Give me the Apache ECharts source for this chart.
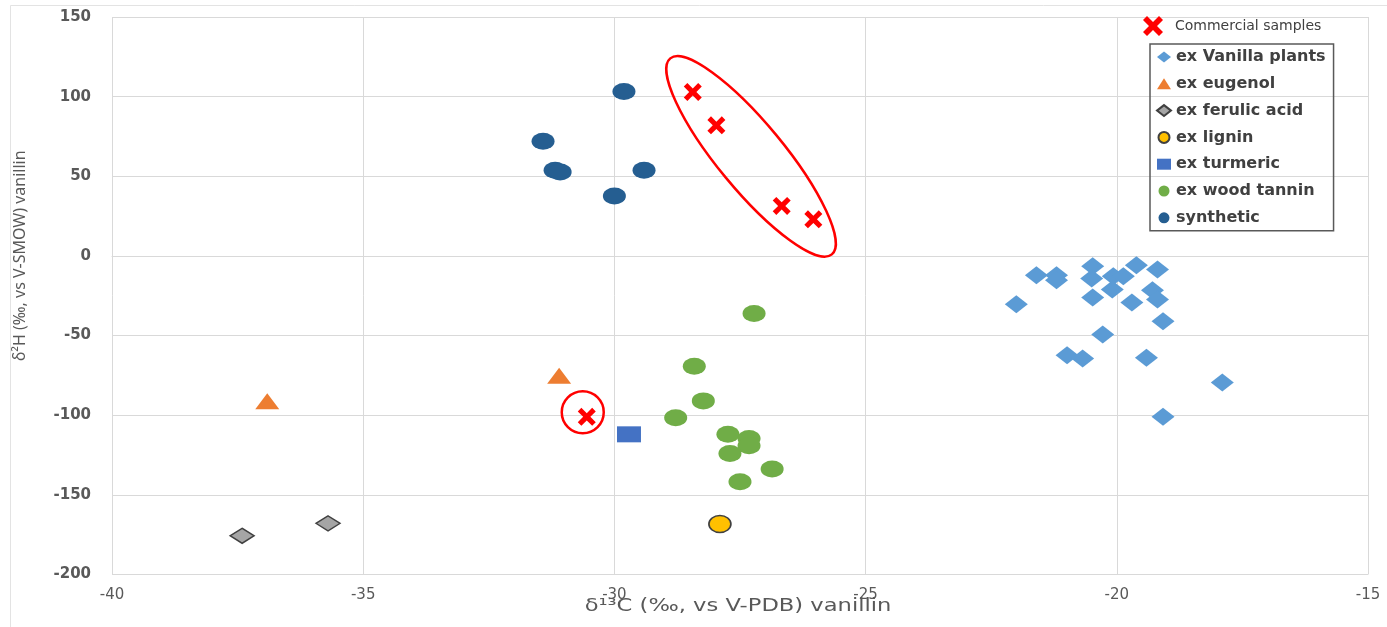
<!DOCTYPE html>
<html>
<head>
<meta charset="utf-8">
<script src="https://cdn.jsdelivr.net/npm/echarts@6/dist/echarts.min.js"></script>
<style>
  html, body { margin: 0; padding: 0; background: #fff; }
  #scatter { width: 1387px; height: 627px; }
</style>
</head>
<body>
<div id="scatter"></div>
<script>
// d13C (x), d2H (y) values
var vanillaPlants = [
    [-21.60, -12.1], [-21.20, -12.1], [-21.20, -15.3], [-20.48, -6.5], [-20.50, -14.2],
    [-20.07, -12.7], [-19.87, -12.7], [-20.09, -21.1], [-19.61, -5.8], [-19.19, -8.5],
    [-19.29, -21.5], [-19.19, -27.4], [-20.48, -26.1], [-19.70, -29.2], [-22.00, -30.3],
    [-19.08, -41.0], [-20.28, -49.3], [-20.99, -62.3], [-20.68, -64.4], [-19.41, -64.0],
    [-17.90, -79.4], [-19.08, -101.0]
];
var eugenol = [[-36.91, -91.2], [-31.10, -75.3]];
var ferulicAcid = [[-37.41, -175.7], [-35.70, -167.9]];
var lignin = [[-27.90, -168.3]];
var turmeric = [[-29.71, -112.0]];
var woodTannin = [
    [-27.22, -36.1], [-28.41, -69.2], [-28.23, -91.0], [-28.78, -101.6], [-27.74, -111.9],
    [-27.32, -114.6], [-27.32, -119.2], [-27.70, -124.0], [-26.86, -133.8], [-27.50, -141.8]
];
var synthetic = [
    [-29.81, 103.3], [-31.42, 72.0], [-31.18, 53.8], [-31.08, 52.7], [-29.41, 53.8], [-30.00, 37.6]
];
var commercial = [[-28.44, 102.9], [-27.97, 82.0], [-26.67, 31.4], [-26.04, 23.0], [-30.55, -101.0]];
// centres of the red rings drawn round the commercial samples
var ringCentres = [[-27.28, 62.5], [-30.63, -98.1]];

var xTicks = { min: -40, max: -15, step: 5 };
var yTicks = { min: -200, max: 150, step: 50 };

var crossPath = 'path://M2,0 L5,3 L8,0 L10,2 L7,5 L10,8 L8,10 L5,7 L2,10 L0,8 L3,5 L0,2 Z';
// ring sizes in pixels, one per centre
var ringShapes = [
    { rx: 127, ry: 33, angle: -50.5 },
    { rx: 21, ry: 21, angle: 0 }
];

var chart = document.getElementById('scatter');
var myChart = echarts.init(chart);

var wideFont = 'DejaVu Sans';

var option = {
    backgroundColor: '#fff',
    animation: false,
    textStyle: { fontFamily: wideFont },
    grid: { left: 112, right: 19, top: 17, bottom: 52.5 },
    graphic: [
        {
            type: 'rect',
            left: 8,
            top: 3,
            shape: { width: 1400, height: 640 },
            style: { fill: 'none', stroke: '#e3e3e3', lineWidth: 1 },
            silent: true
        },
        {
            type: 'text',
            x: 738,
            y: 607,
            scaleX: 1.33,
            style: {
                text: 'δ¹³C (‰, vs V-PDB) vanillin',
                font: '17px "DejaVu Sans"',
                fill: '#595959',
                align: 'center',
                verticalAlign: 'middle'
            },
            silent: true
        }
    ],
    legend: [
        {
            data: ['ex Vanilla plants', 'ex eugenol', 'ex ferulic acid', 'ex lignin',
                   'ex turmeric', 'ex wood tannin', 'synthetic'],
            orient: 'vertical',
            left: 1150,
            top: 44,
            padding: [5, 8, 5, 6],
            itemGap: 10.8,
            itemWidth: 14,
            itemHeight: 11,
            borderColor: '#595959',
            borderWidth: 1.5,
            textStyle: { fontSize: 16, color: '#404040', fontWeight: 'bold', fontFamily: wideFont }
        },
        {
            data: ['Commercial samples'],
            left: 1143,
            top: 16,
            padding: 0,
            itemWidth: 20,
            itemHeight: 20,
            itemGap: 0,
            textStyle: { fontSize: 14, color: '#404040', fontFamily: wideFont, padding: [0, 0, 0, 7] }
        }
    ],
    xAxis: {
        type: 'value',
        min: xTicks.min,
        max: xTicks.max,
        interval: xTicks.step,
        axisLine: { show: true, lineStyle: { color: '#d9d9d9' } },
        axisTick: { show: false },
        axisLabel: { color: '#595959', fontSize: 15, margin: 13 },
        splitLine: { show: true, lineStyle: { color: '#d9d9d9' } }
    },
    yAxis: {
        type: 'value',
        min: yTicks.min,
        max: yTicks.max,
        interval: yTicks.step,
        name: 'δ²H (‰, vs V-SMOW) vanillin',
        nameLocation: 'middle',
        nameGap: 84,
        nameTextStyle: { fontSize: 16, color: '#595959', fontFamily: 'Noto Sans', padding: [0, 0, 0, 80] },
        axisLine: { show: false },
        axisTick: { show: false },
        axisLabel: { color: '#595959', fontSize: 15, fontWeight: 'bold', margin: 21 },
        splitLine: { show: true, lineStyle: { color: '#d9d9d9' } }
    },
    series: [
        {
            name: 'ex Vanilla plants',
            type: 'scatter',
            symbol: 'diamond',
            symbolSize: [23, 18],
            itemStyle: { color: '#5b9bd5', opacity: 1 },
            data: vanillaPlants
        },
        {
            name: 'ex eugenol',
            type: 'scatter',
            symbol: 'triangle',
            symbolSize: [24, 16],
            itemStyle: { color: '#ed7d31', opacity: 1 },
            data: eugenol
        },
        {
            name: 'ex ferulic acid',
            type: 'scatter',
            symbol: 'diamond',
            symbolSize: [24, 15],
            itemStyle: { color: '#a5a5a5', borderColor: '#404040', borderWidth: 1.5, opacity: 1 },
            data: ferulicAcid
        },
        {
            name: 'ex lignin',
            type: 'scatter',
            symbol: 'circle',
            symbolSize: [22, 17],
            itemStyle: { color: '#ffc000', borderColor: '#404040', borderWidth: 1.5, opacity: 1 },
            data: lignin
        },
        {
            name: 'ex turmeric',
            type: 'scatter',
            symbol: 'rect',
            symbolSize: [24, 16],
            itemStyle: { color: '#4472c4', opacity: 1 },
            data: turmeric
        },
        {
            name: 'ex wood tannin',
            type: 'scatter',
            symbol: 'circle',
            symbolSize: [23, 17],
            itemStyle: { color: '#70ad47', opacity: 1 },
            data: woodTannin
        },
        {
            name: 'synthetic',
            type: 'scatter',
            symbol: 'circle',
            symbolSize: [23, 17],
            itemStyle: { color: '#255e91', opacity: 1 },
            data: synthetic
        },
        {
            name: 'Commercial samples',
            type: 'scatter',
            symbol: crossPath,
            symbolSize: 18,
            itemStyle: { color: '#ff0000', opacity: 1 },
            data: commercial
        },
        {
            name: 'rings',
            type: 'custom',
            silent: true,
            renderItem: function (params, api) {
                var c = api.coord([api.value(0), api.value(1)]);
                var s = ringShapes[params.dataIndex];
                return {
                    type: 'ellipse',
                    x: c[0],
                    y: c[1],
                    rotation: s.angle * Math.PI / 180,
                    shape: { cx: 0, cy: 0, rx: s.rx, ry: s.ry },
                    style: { fill: 'none', stroke: '#ff0000', lineWidth: 2.5 }
                };
            },
            data: ringCentres
        }
    ]
};

myChart.setOption(option);
</script>
</body>
</html>
